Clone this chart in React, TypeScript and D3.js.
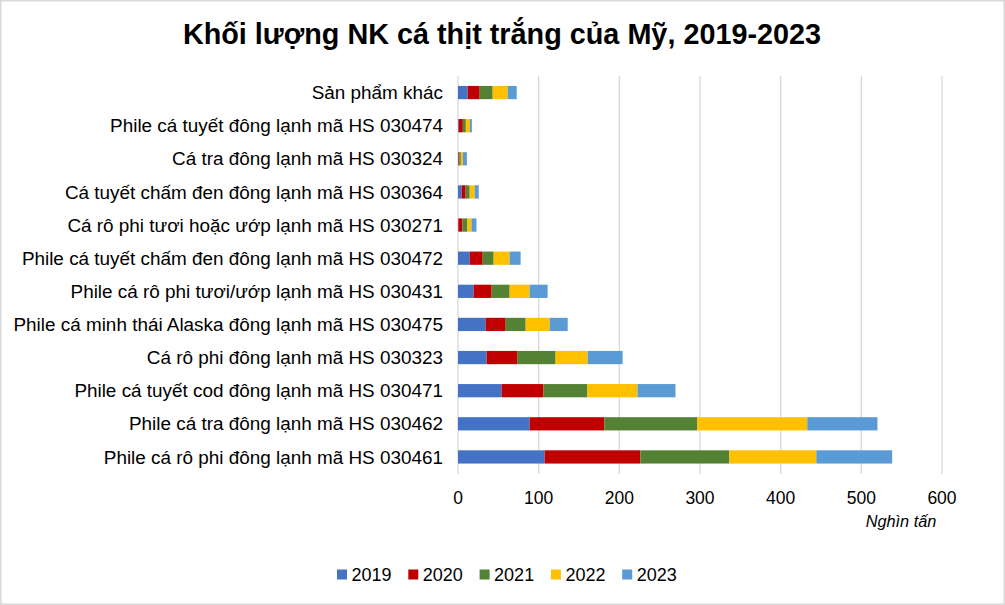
import React, { useEffect, useRef } from 'react'
import * as d3 from 'd3'

const categories = [
  'Sản phẩm khác',
  'Phile cá tuyết đông lạnh mã HS 030474',
  'Cá tra đông lạnh mã HS 030324',
  'Cá tuyết chấm đen đông lạnh mã HS 030364',
  'Cá rô phi tươi hoặc ướp lạnh mã HS 030271',
  'Phile cá tuyết chấm đen đông lạnh mã HS 030472',
  'Phile cá rô phi tươi/ướp lạnh mã HS 030431',
  'Phile cá minh thái Alaska đông lạnh mã HS 030475',
  'Cá rô phi đông lạnh mã HS 030323',
  'Phile cá tuyết cod đông lạnh mã HS 030471',
  'Phile cá tra đông lạnh mã HS 030462',
  'Phile cá rô phi đông lạnh mã HS 030461',
]

const years = ['2019', '2020', '2021', '2022', '2023']
const colors = ['#4472c4', '#c00000', '#548235', '#ffc000', '#5b9bd5']

const v2019 = [12, 1, 0.5, 4.5, 0.5, 14.5, 19.4, 34.3, 35.5, 54, 88.8, 107.4]
const v2020 = [14.9, 5, 1, 5, 5, 16.1, 22.3, 24.8, 38.4, 52, 92.6, 118.6]
const v2021 = [16.1, 3.7, 2, 5, 6.2, 13.6, 22.3, 24.8, 47.1, 54.5, 115.3, 110.4]
const v2022 = [18.6, 5, 2.5, 6.2, 5, 19.8, 24.8, 29.8, 39.7, 62, 136.3, 107.8]
const v2023 = [11.2, 2.5, 5, 5, 6.2, 13.6, 22.3, 22.3, 43.4, 47.1, 87, 94]

const xTicks = [0, 100, 200, 300, 400, 500, 600]

const W = 1005, H = 605
const font = '"Liberation Sans", Arial, sans-serif'

export default function App() {
  const ref = useRef<SVGSVGElement>(null)

  useEffect(() => {
    const svg = d3.select(ref.current)
    svg.selectAll('*').remove()

    const rows = categories.map((c, i) => {
      const r: any = { cat: c }
      r['2019'] = v2019[i]
      r['2020'] = v2020[i]
      r['2021'] = v2021[i]
      r['2022'] = v2022[i]
      r['2023'] = v2023[i]
      return r
    })

    const x = d3.scaleLinear().domain([0, 600]).range([458, 942])
    const y = d3.scaleBand().domain(categories).range([76, 473.5])
      .paddingInner(0.6).paddingOuter(0.3)
    const color = d3.scaleOrdinal<string>().domain(years).range(colors)

    // frame
    svg.append('rect')
      .attr('x', 0.75).attr('y', 0.75)
      .attr('width', W - 1.5).attr('height', H - 1.5)
      .attr('fill', '#fff').attr('stroke', '#d9d9d9').attr('stroke-width', 1.5)

    svg.append('text')
      .attr('x', 502).attr('y', 44)
      .attr('text-anchor', 'middle')
      .attr('font-family', font).attr('font-weight', 'bold').attr('font-size', 28.8)
      .text('Khối lượng NK cá thịt trắng của Mỹ, 2019-2023')

    // gridlines
    svg.append('g').selectAll('line').data(xTicks).join('line')
      .attr('x1', d => x(d)).attr('x2', d => x(d))
      .attr('y1', 76).attr('y2', 474)
      .attr('stroke', '#d9d9d9').attr('stroke-width', 1.3)

    const stacked = d3.stack<any>().keys(years)(rows)
    svg.append('g').selectAll('g').data(stacked).join('g')
      .attr('fill', d => color(d.key))
      .selectAll('rect').data(d => d).join('rect')
      .attr('x', d => x(d[0]))
      .attr('width', d => x(d[1]) - x(d[0]))
      .attr('y', d => y(d.data.cat)!)
      .attr('height', y.bandwidth())

    // category labels
    svg.append('g').selectAll('text').data(categories).join('text')
      .attr('x', 443)
      .attr('y', d => y(d)! + y.bandwidth() / 2)
      .attr('dy', '0.35em')
      .attr('text-anchor', 'end')
      .attr('font-family', font).attr('font-size', 18.9).attr('fill', '#000')
      .text(d => d)

    // x ticks
    svg.append('g').selectAll('text').data(xTicks).join('text')
      .attr('x', d => x(d)).attr('y', 504)
      .attr('text-anchor', 'middle')
      .attr('font-family', font).attr('font-size', 17.5).attr('fill', '#000')
      .text(d => d)

    svg.append('text')
      .attr('x', 901).attr('y', 527)
      .attr('text-anchor', 'middle')
      .attr('font-family', font).attr('font-size', 16.3).attr('font-style', 'italic')
      .text('Nghìn tấn')

    // legend
    const lg = svg.append('g').selectAll('g').data(years).join('g')
      .attr('transform', (d, i) => `translate(${337 + i * 71.3},569.5)`)
    lg.append('rect').attr('width', 10).attr('height', 10).attr('fill', d => color(d))
    lg.append('text')
      .attr('x', 14.5).attr('y', 11.5)
      .attr('font-family', font).attr('font-size', 18)
      .text(d => d)
  }, [])

  return (
    <div style={{ position: 'absolute', left: 0, top: 0 }}>
      <svg ref={ref} width={W} height={H} style={{ display: 'block' }} />
    </div>
  )
}
